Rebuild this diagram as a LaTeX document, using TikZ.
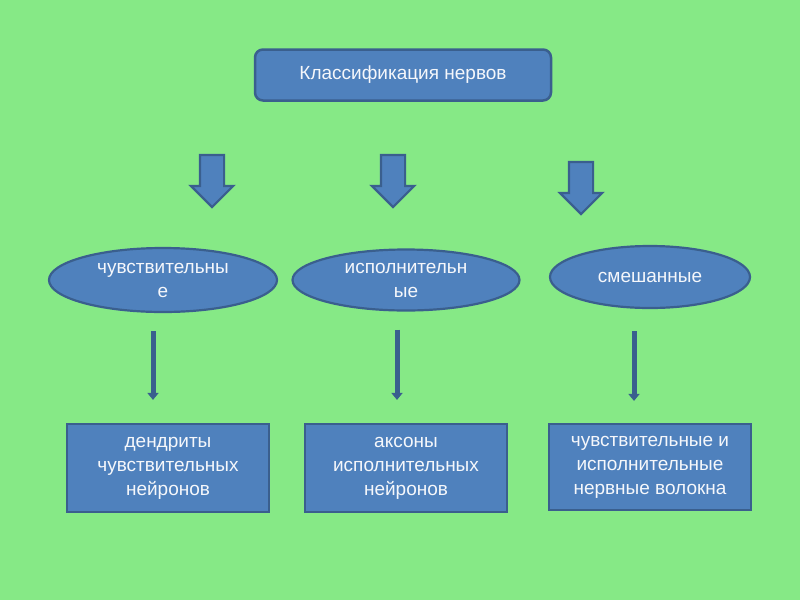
\documentclass[tikz,border=0pt]{standalone}
\usepackage{fontspec}
\setmainfont{Liberation Sans}
\usetikzlibrary{shapes.geometric, shapes.arrows, arrows.meta}
\definecolor{lawn}{HTML}{86E986}
\definecolor{boxblue}{HTML}{4F81BD}
\definecolor{edgeblue}{HTML}{3A5F8E}
\newcommand{\slidefont}{\fontsize{19}{24}\selectfont}
\tikzstyle{title} = [rectangle, rounded corners=8pt, minimum width=296pt, minimum height=51pt, text centered, draw=edgeblue, line width=2.5pt, fill=boxblue, text=white!94!boxblue, font=\slidefont]
\tikzstyle{oval} = [ellipse, inner sep=0pt, minimum width=228pt, minimum height=64pt, align=center, draw=edgeblue, line width=2.2pt, fill=boxblue, text=white!94!boxblue, font=\slidefont]
\tikzstyle{process} = [rectangle, minimum width=202pt, minimum height=88pt, align=center, draw=edgeblue, line width=2.2pt, fill=boxblue, text=white!94!boxblue, font=\slidefont]
\tikzstyle{bigarrow} = [single arrow, rotate=-90, inner xsep=0pt, inner ysep=11pt, minimum width=40pt, minimum height=52pt, single arrow head extend=9pt, draw=edgeblue, line width=2.2pt, fill=boxblue]
\tikzstyle{arrow} = [line width=5pt, draw=edgeblue, -{Triangle[width=11pt,length=7pt]}]

\begin{document}
\begin{tikzpicture}[x=1pt, y=-1pt]
    \fill [lawn] (0,0) rectangle (800,600);

    \node (top) [title] at (403,75) {Классификация нервов};

    \node (arr1) [bigarrow] at (212,175) {};
    \node (arr2) [bigarrow] at (393,175) {};
    \node (arr3) [bigarrow] at (581,182) {};

    \node (oval1) [oval] at (163,280) {чувствительны\\е};
    \node (oval2) [oval, minimum width=227pt, minimum height=61pt] at (406,280) {исполнительн\\ые};
    \node (oval3) [oval, minimum width=200pt, minimum height=62pt] at (650,277) {смешанные};

    \node (proc1) [process] at (168,468) {дендриты\\чувствительных\\нейронов};
    \node (proc2) [process] at (406,468) {аксоны\\исполнительных\\нейронов};
    \node (proc3) [process, minimum height=86pt] at (650,467) {чувствительные и\\исполнительные\\нервные волокна};

    \draw [arrow, shorten <=18pt, shorten >=23pt] ([xshift=-10pt]oval1.south) -- ([xshift=-10pt]oval1.south |- proc1.north);
    \draw [arrow, shorten <=18pt, shorten >=23pt] ([xshift=-9pt]oval2.south) -- ([xshift=-9pt]oval2.south |- proc2.north);
    \draw [arrow, shorten <=22pt, shorten >=22pt] ([xshift=-16pt]oval3.south) -- ([xshift=-16pt]oval3.south |- proc3.north);

\end{tikzpicture}
\end{document}
